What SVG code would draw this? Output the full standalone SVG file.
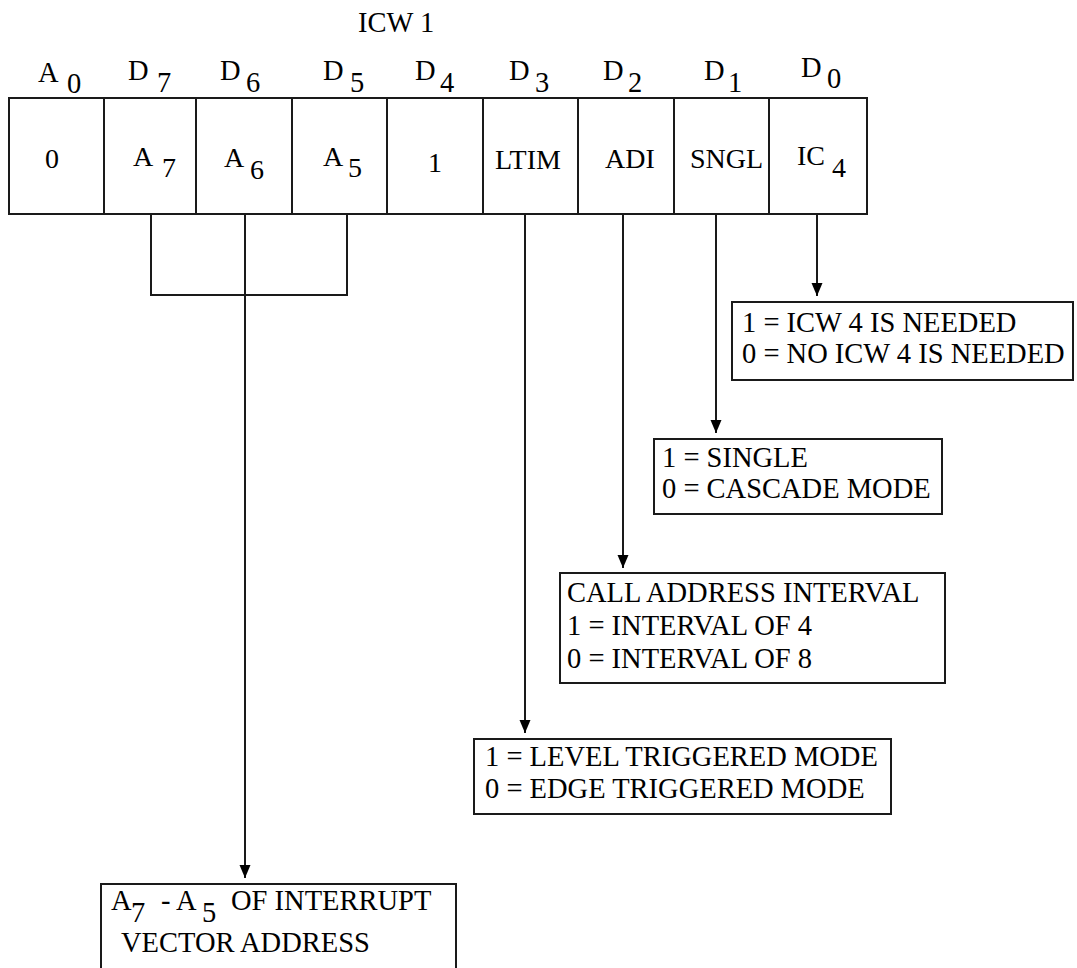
<svg xmlns="http://www.w3.org/2000/svg" width="1077" height="968" viewBox="0 0 1077 968">
<style>
text{font-family:"Liberation Serif","Times New Roman",serif;font-size:28.5px;fill:#000}
.c{font-size:28px}
.b{fill:#fff;stroke:#1a1a1a;stroke-width:2}
.w{stroke:#1a1a1a;stroke-width:2;fill:none}
</style>
<defs>
<marker id="ah" markerUnits="userSpaceOnUse" markerWidth="14" markerHeight="12" refX="13" refY="6" orient="auto" viewBox="0 0 14 12">
<path d="M0,0.5 L13,6 L0,11.5 Z" fill="#000"/>
</marker>
</defs>
<rect width="1077" height="968" fill="#fff"/>
<g id="title"><text x="358" y="32">ICW 1</text></g>
<g id="bit-labels">
<text x="38" y="82">A<tspan x="67" y="93">0</tspan></text>
<text x="128" y="80">D<tspan x="157" y="92">7</tspan></text>
<text x="220" y="80">D<tspan x="246" y="92">6</tspan></text>
<text x="323" y="80">D<tspan x="350" y="92">5</tspan></text>
<text x="415" y="80">D<tspan x="440" y="92">4</tspan></text>
<text x="509" y="80">D<tspan x="535" y="92">3</tspan></text>
<text x="603" y="80">D<tspan x="628" y="92">2</tspan></text>
<text x="704" y="80">D<tspan x="728" y="92">1</tspan></text>
<text x="801" y="77">D<tspan x="827" y="88">0</tspan></text>
</g>
<g id="register">
<rect class="b" x="9" y="98" width="858" height="116"/>
<path class="w" d="M104,98V214M196,98V214M292,98V214M387,98V214M483,98V214M578,98V214M674,98V214M769,98V214"/>
<text class="c" x="45" y="168">0</text>
<text class="c" x="133" y="166">A<tspan x="162" y="177">7</tspan></text>
<text class="c" x="224" y="167">A<tspan x="250" y="179">6</tspan></text>
<text class="c" x="323" y="166">A<tspan x="348" y="177">5</tspan></text>
<text class="c" x="428" y="172">1</text>
<text class="c" x="495" y="169">LTIM</text>
<text class="c" x="605" y="168">ADI</text>
<text class="c" x="690" y="168">SNGL</text>
<text class="c" x="797" y="165">IC<tspan x="832" y="177">4</tspan></text>
</g>
<g id="connectors">
<path class="w" d="M151,214V295H347V214"/>
<path class="w" d="M245,214V878" marker-end="url(#ah)"/>
<path class="w" d="M525,214V733" marker-end="url(#ah)"/>
<path class="w" d="M623,214V568" marker-end="url(#ah)"/>
<path class="w" d="M716,214V433" marker-end="url(#ah)"/>
<path class="w" d="M817,214V296" marker-end="url(#ah)"/>
</g>
<g id="ic4-box">
<rect class="b" x="732" y="302" width="341" height="78"/>
<text x="742" y="332">1 = ICW 4 IS NEEDED</text>
<text x="742" y="363">0 = NO ICW 4 IS NEEDED</text>
</g>
<g id="sngl-box">
<rect class="b" x="654" y="439" width="288" height="75"/>
<text x="662" y="467">1 = SINGLE</text>
<text x="662" y="498">0 = CASCADE MODE</text>
</g>
<g id="adi-box">
<rect class="b" x="560" y="573" width="385" height="110"/>
<text x="567" y="602">CALL ADDRESS INTERVAL</text>
<text x="567" y="635">1 = INTERVAL OF 4</text>
<text x="567" y="668">0 = INTERVAL OF 8</text>
</g>
<g id="ltim-box">
<rect class="b" x="474" y="739" width="417" height="75"/>
<text x="485" y="766">1 = LEVEL TRIGGERED MODE</text>
<text x="485" y="798">0 = EDGE TRIGGERED MODE</text>
</g>
<g id="vector-box">
<rect class="b" x="101" y="884" width="355" height="100"/>
<text x="111" y="910">A<tspan x="131" y="922">7</tspan><tspan x="161" y="910">-</tspan><tspan x="176" y="910">A</tspan><tspan x="202" y="922">5</tspan><tspan x="231" y="910">OF INTERRUPT</tspan></text>
<text x="121" y="952">VECTOR ADDRESS</text>
</g>
</svg>
